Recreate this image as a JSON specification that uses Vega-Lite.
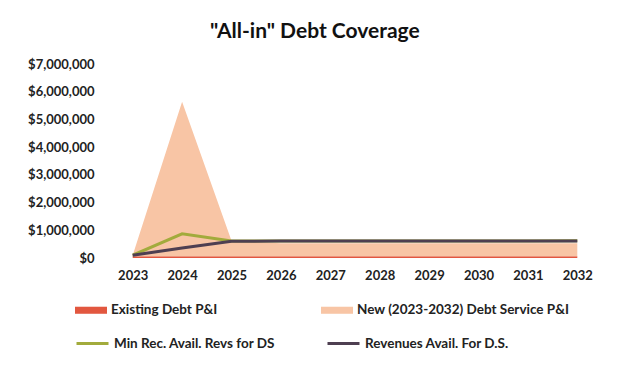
{
  "$schema": "https://vega.github.io/schema/vega-lite/v6.json",
  "autosize": {"type": "none"},
  "width": 494,
  "height": 194,
  "padding": {"left": 108, "top": 64, "right": 27, "bottom": 127},
  "background": "white",
  "config": {
    "view": {"stroke": null},
    "font": "Lato",
    "axis": {"labelFont": "Lato", "labelFontWeight": "bold", "labelFontSize": 13, "labelColor": "#222222", "grid": false, "domain": false, "ticks": false, "title": null, "labelOverlap": false},
    "legend": {"labelFont": "Lato", "labelFontWeight": "bold", "labelFontSize": 13.5, "labelColor": "#222222", "labelLimit": 400}
  },
  "title": {"text": "\"All-in\" Debt Coverage", "font": "Lato", "fontSize": 21, "fontWeight": "bold", "color": "#111111", "anchor": "middle", "frame": "bounds", "offset": 16},
  "data": {"values": [
    {"year": "2023", "series": "Existing Debt P&I", "value": 60000},
    {"year": "2024", "series": "Existing Debt P&I", "value": 60000},
    {"year": "2025", "series": "Existing Debt P&I", "value": 60000},
    {"year": "2026", "series": "Existing Debt P&I", "value": 60000},
    {"year": "2027", "series": "Existing Debt P&I", "value": 60000},
    {"year": "2028", "series": "Existing Debt P&I", "value": 60000},
    {"year": "2029", "series": "Existing Debt P&I", "value": 60000},
    {"year": "2030", "series": "Existing Debt P&I", "value": 60000},
    {"year": "2031", "series": "Existing Debt P&I", "value": 60000},
    {"year": "2032", "series": "Existing Debt P&I", "value": 60000},
    {"year": "2023", "series": "New (2023-2032) Debt Service P&I", "value": 40000},
    {"year": "2024", "series": "New (2023-2032) Debt Service P&I", "value": 5580000},
    {"year": "2025", "series": "New (2023-2032) Debt Service P&I", "value": 560000},
    {"year": "2026", "series": "New (2023-2032) Debt Service P&I", "value": 470000},
    {"year": "2027", "series": "New (2023-2032) Debt Service P&I", "value": 470000},
    {"year": "2028", "series": "New (2023-2032) Debt Service P&I", "value": 470000},
    {"year": "2029", "series": "New (2023-2032) Debt Service P&I", "value": 470000},
    {"year": "2030", "series": "New (2023-2032) Debt Service P&I", "value": 470000},
    {"year": "2031", "series": "New (2023-2032) Debt Service P&I", "value": 470000},
    {"year": "2032", "series": "New (2023-2032) Debt Service P&I", "value": 470000},
    {"year": "2023", "series": "Min Rec. Avail. Revs for DS", "value": 100000},
    {"year": "2024", "series": "Min Rec. Avail. Revs for DS", "value": 870000},
    {"year": "2025", "series": "Min Rec. Avail. Revs for DS", "value": 610000},
    {"year": "2026", "series": "Min Rec. Avail. Revs for DS", "value": 615000},
    {"year": "2027", "series": "Min Rec. Avail. Revs for DS", "value": 615000},
    {"year": "2028", "series": "Min Rec. Avail. Revs for DS", "value": 615000},
    {"year": "2029", "series": "Min Rec. Avail. Revs for DS", "value": 615000},
    {"year": "2030", "series": "Min Rec. Avail. Revs for DS", "value": 615000},
    {"year": "2031", "series": "Min Rec. Avail. Revs for DS", "value": 615000},
    {"year": "2032", "series": "Min Rec. Avail. Revs for DS", "value": 620000},
    {"year": "2023", "series": "Revenues Avail. For D.S.", "value": 100000},
    {"year": "2024", "series": "Revenues Avail. For D.S.", "value": 360000},
    {"year": "2025", "series": "Revenues Avail. For D.S.", "value": 600000},
    {"year": "2026", "series": "Revenues Avail. For D.S.", "value": 610000},
    {"year": "2027", "series": "Revenues Avail. For D.S.", "value": 610000},
    {"year": "2028", "series": "Revenues Avail. For D.S.", "value": 610000},
    {"year": "2029", "series": "Revenues Avail. For D.S.", "value": 610000},
    {"year": "2030", "series": "Revenues Avail. For D.S.", "value": 610000},
    {"year": "2031", "series": "Revenues Avail. For D.S.", "value": 610000},
    {"year": "2032", "series": "Revenues Avail. For D.S.", "value": 610000}
  ]},
  "encoding": {
    "x": {"field": "year", "type": "ordinal", "scale": {"type": "point", "padding": 0.5}, "axis": {"labelAngle": 0, "labelPadding": 11}}
  },
  "layer": [
    {
      "transform": [{"filter": "datum.series === 'Existing Debt P&I' || datum.series === 'New (2023-2032) Debt Service P&I'"}],
      "mark": {"type": "area", "opacity": 1},
      "encoding": {
        "y": {"field": "value", "type": "quantitative", "stack": "zero", "scale": {"domain": [0, 7000000]}, "axis": {"values": [0,1000000,2000000,3000000,4000000,5000000,6000000,7000000], "labelExpr": "'$' + format(datum.value, ',.0f')", "labelPadding": 14}},
        "fill": {"field": "series", "type": "nominal", "sort": ["Existing Debt P&I", "New (2023-2032) Debt Service P&I"],
          "scale": {"domain": ["Existing Debt P&I", "New (2023-2032) Debt Service P&I"], "range": ["#E2573F", "#F8C5A5"]},
          "legend": {"title": null, "orient": "none", "legendX": -33, "legendY": 230, "direction": "horizontal", "columns": 2, "columnPadding": 103, "symbolType": "M-1,-0.22H1V0.22H-1Z", "symbolSize": 1024, "symbolStrokeWidth": 0, "labelOffset": 4}},
        "order": {"field": "series", "sort": "ascending"}
      }
    },
    {
      "transform": [{"filter": "datum.series === 'Min Rec. Avail. Revs for DS'"}],
      "mark": {"type": "line", "strokeWidth": 3},
      "encoding": {
        "y": {"field": "value", "type": "quantitative", "axis": {"values": [0,1000000,2000000,3000000,4000000,5000000,6000000,7000000], "labelExpr": "'$' + format(datum.value, ',.0f')", "labelPadding": 14}},
        "stroke": {"field": "series", "type": "nominal",
          "scale": {"domain": ["Min Rec. Avail. Revs for DS", "Revenues Avail. For D.S."], "range": ["#A2AB3C", "#4E3F51"]},
          "legend": {"title": null, "orient": "none", "legendX": -33, "legendY": 262, "direction": "horizontal", "columns": 2, "columnPadding": 45, "symbolType": "stroke", "symbolSize": 1024, "symbolStrokeWidth": 3, "labelOffset": 4}}
      }
    },
    {
      "transform": [{"filter": "datum.series === 'Revenues Avail. For D.S.'"}],
      "mark": {"type": "line", "strokeWidth": 3},
      "encoding": {
        "y": {"field": "value", "type": "quantitative", "axis": {"values": [0,1000000,2000000,3000000,4000000,5000000,6000000,7000000], "labelExpr": "'$' + format(datum.value, ',.0f')", "labelPadding": 14}},
        "stroke": {"field": "series", "type": "nominal"}
      }
    }
  ]
}
